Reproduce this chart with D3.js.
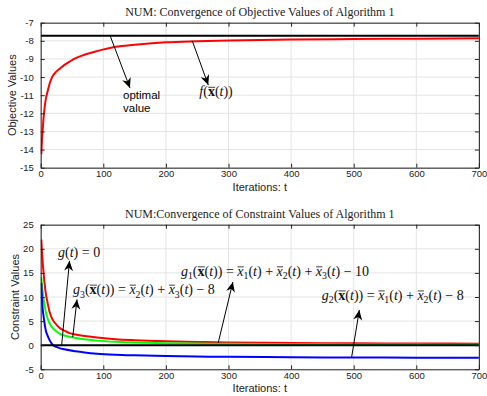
<!DOCTYPE html>
<html><head><meta charset="utf-8">
<script src="https://cdn.jsdelivr.net/npm/d3@7"></script>
<style>body{margin:0;background:#fff}text{white-space:pre}</style>
</head><body><svg id="c" width="487" height="396"></svg>
<script>
// ---------- data ----------
const xTicks = [0,100,200,300,400,500,600,700];
const yTicksObj = [-15,-14,-13,-12,-11,-10,-9,-8,-7];
const yTicksCon = [-5,0,5,10,15,20,25];
const tObj = [1,2,3,4,6,8.5,11,14,19,25,30,38,46,56,70,90,120,150,200,250,300,400,500,600,700];
const fObj = [-14.25,-13.5,-13.0,-12.5,-11.75,-11.15,-10.8,-10.4,-9.95,-9.7,-9.55,-9.33,-9.15,-8.95,-8.77,-8.57,-8.33,-8.22,-8.08,-8.02,-7.98,-7.93,-7.9,-7.88,-7.86];
const optimalValue = -7.72;
const tCon = [1,2,3,4.5,6,8.5,11,14,19,25,30,38,46,56,70,90,120,150,200,250,300,400,500,600,700];
const g1 = [21.9,19.5,17.4,15.2,13.1,10.5,8.8,7.0,5.3,4.3,3.6,3.0,2.5,2.2,1.9,1.6,1.25,1.05,0.82,0.68,0.58,0.47,0.4,0.35,0.32];
const g3 = [14.1,12.5,11.2,9.8,8.4,6.7,5.6,4.6,3.6,2.9,2.4,2.0,1.75,1.5,1.25,0.95,0.7,0.57,0.42,0.34,0.28,0.21,0.16,0.13,0.11];
const g2 = [12.9,9.8,7.7,6.1,4.7,2.9,2.0,1.1,0.1,-0.35,-0.6,-0.85,-1.07,-1.27,-1.5,-1.75,-1.97,-2.1,-2.25,-2.35,-2.42,-2.5,-2.55,-2.58,-2.6];
const constraintZero = 0;

// ---------- setup ----------
const svg = d3.select('#c');
const sans = '"Liberation Sans", Arial, Helvetica, sans-serif';
const serif = '"Liberation Serif", "Times New Roman", serif';
const X0 = 40.7, X1 = 478.9;

function panel(top, bottom, yDomain, yTicks, title, ylabel, clipId, labelX) {
  const x = d3.scaleLinear().domain([0,700]).range([X0,X1]);
  const y = d3.scaleLinear().domain(yDomain).range([bottom, top]);
  const g = svg.append('g');
  // grid
  g.append('g').selectAll('line').data(xTicks).join('line')
    .attr('x1', d=>x(d)).attr('x2', d=>x(d)).attr('y1', top).attr('y2', bottom)
    .attr('stroke', '#e4e4e4').attr('stroke-width', 1);
  g.append('g').selectAll('line').data(yTicks).join('line')
    .attr('y1', d=>y(d)).attr('y2', d=>y(d)).attr('x1', X0).attr('x2', X1)
    .attr('stroke', '#e4e4e4').attr('stroke-width', 1);
  svg.append('clipPath').attr('id', clipId).append('rect')
    .attr('x', X0).attr('y', top).attr('width', X1-X0).attr('height', bottom-top);
  const plot = g.append('g').attr('clip-path', `url(#${clipId})`);
  // axes
  const fmt = d => String(d);
  const style = a => a.call(s => {
    s.select('.domain').attr('stroke', '#222').attr('stroke-width', 1);
    s.selectAll('.tick line').attr('stroke', '#222');
    s.selectAll('text').attr('font-family', sans).attr('font-size', 9.5).attr('fill', '#222');
  });
  g.append('g').attr('transform', `translate(0,${bottom})`)
    .call(d3.axisBottom(x).tickValues(xTicks).tickFormat(fmt).tickSize(-4).tickPadding(3).tickSizeOuter(0)).call(style);
  g.append('g').attr('transform', `translate(0,${top})`)
    .call(d3.axisTop(x).tickValues(xTicks).tickSize(-4).tickFormat('').tickSizeOuter(0)).call(style);
  g.append('g').attr('transform', `translate(${X0},0)`)
    .call(d3.axisLeft(y).tickValues(yTicks).tickFormat(fmt).tickSize(-4).tickPadding(7).tickSizeOuter(0)).call(style);
  g.append('g').attr('transform', `translate(${X1},0)`)
    .call(d3.axisRight(y).tickValues(yTicks).tickSize(-4).tickFormat('').tickSizeOuter(0)).call(style);
  // title and labels
  g.append('text').attr('x', (X0+X1)/2).attr('y', top-7).attr('text-anchor','middle')
    .attr('font-family', serif).attr('font-size', 12).attr('fill','#222').text(title);
  g.append('text').attr('x', (X0+X1)/2).attr('y', bottom+23).attr('text-anchor','middle')
    .attr('font-family', sans).attr('font-size', 11).attr('fill','#222').text('Iterations: t');
  g.append('text').attr('transform', `translate(${labelX},${(top+bottom)/2}) rotate(-90)`)
    .attr('text-anchor','middle').attr('font-family', sans).attr('font-size', 11).attr('fill','#222').text(ylabel);
  return {x, y, g, plot};
}

function arrow(g, x1, y1, x2, y2) {
  g.append('line').attr('x1', x1).attr('y1', y1).attr('x2', x2).attr('y2', y2)
    .attr('stroke', '#000').attr('stroke-width', 1);
  const ang = Math.atan2(y2-y1, x2-x1), L = 10, W = 4.5, N = 3;
  const ux = Math.cos(ang), uy = Math.sin(ang), px = -uy, py = ux;
  const bx = x2 - ux*L, by = y2 - uy*L;
  const p = [[x2,y2],[bx+px*W, by+py*W],[x2-ux*(L-N), y2-uy*(L-N)],[bx-px*W, by-py*W]];
  g.append('path').attr('d', 'M'+p.map(q=>q.join(',')).join('L')+'Z').attr('fill','#000');
}

function mathText(g, x, y, parts, size) {
  const text = g.append('text').attr('x', x).attr('y', y)
    .attr('font-family', serif).attr('font-size', size).attr('fill', '#111');
  let idx = 0, shift = 0; const overs = [];
  parts.forEach(([s, st]) => {
    const ts = text.append('tspan').text(s);
    if (st.includes('i')) ts.attr('font-style','italic');
    if (st.includes('b')) ts.attr('font-weight','bold');
    const want = st.includes('s') ? size*0.25 : 0;
    if (want !== shift) { ts.attr('dy', want - shift); shift = want; }
    if (st.includes('s')) ts.attr('font-size', size*0.7);
    if (st.includes('o')) overs.push([idx, idx + s.length - 1]);
    idx += s.length;
  });
  const node = text.node();
  overs.forEach(([a,b]) => {
    const xa = node.getStartPositionOfChar(a).x, xb = node.getEndPositionOfChar(b).x;
    g.append('line').attr('x1', xa+0.3).attr('x2', xb+0.3).attr('y1', y - size*0.64).attr('y2', y - size*0.64)
      .attr('stroke', '#111').attr('stroke-width', 0.8);
  });
}

// ---------- top panel ----------
const P1 = panel(22.7, 167.7, [-15,-7], yTicksObj, 'NUM: Convergence of Objective Values of Algorithm 1', 'Objective Values', 'clip1', 16);
const line1 = d3.line().x(d=>P1.x(d[0])).y(d=>P1.y(d[1])).curve(d3.curveMonotoneX);
P1.plot.append('path').datum([[0, optimalValue],[700, optimalValue]])
  .attr('d', line1).attr('fill','none').attr('stroke','#000').attr('stroke-width', 2);
P1.plot.append('path').datum(tObj.map((t,i)=>[t, fObj[i]]))
  .attr('d', line1).attr('fill','none').attr('stroke','#ff0000').attr('stroke-width', 2);

// annotations (data coordinates)
const annObj = [
  {from:[111,-7.73], to:[142.6,-10.6]},
  {from:[242,-7.99], to:[267.7,-10.44]}
];
annObj.forEach(a => arrow(P1.g, P1.x(a.from[0]), P1.y(a.from[1]), P1.x(a.to[0]), P1.y(a.to[1])));
P1.g.append('text').attr('x', P1.x(131.5)).attr('y', P1.y(-11.2)).attr('font-family', sans).attr('font-size', 11.5).text('optimal');
P1.g.append('text').attr('x', P1.x(131.5)).attr('y', P1.y(-11.93)).attr('font-family', sans).attr('font-size', 11.5).text('value');
mathText(P1.g, P1.x(253.4), P1.y(-11.06), [['f','i'],['(','r'],['x','bo'],['(','r'],['t','i'],['))','r']], 14);

// ---------- bottom panel ----------
const P2 = panel(224.7, 369.3, [-5,25], yTicksCon, 'NUM:Convergence of Constraint Values of Algorithm 1', 'Constraint Values', 'clip2', 19);
const line2 = d3.line().x(d=>P2.x(d[0])).y(d=>P2.y(d[1])).curve(d3.curveMonotoneX);
[[g1,'#ff0000'],[g3,'#00ff00'],[g2,'#0000ff']].forEach(([s,c]) => {
  P2.plot.append('path').datum(tCon.map((t,i)=>[t, s[i]]))
    .attr('d', line2).attr('fill','none').attr('stroke', c).attr('stroke-width', 2);
});
P2.plot.append('path').datum([[0,constraintZero],[700,constraintZero]])
  .attr('d', line2).attr('fill','none').attr('stroke','#000').attr('stroke-width', 2);

const annCon = [
  {from:[33.5,0], to:[46,17.5]},
  {from:[51.1,1.64], to:[58,9.5]},
  {from:[283.5,0.46], to:[307,13.1]},
  {from:[496.8,-2.39], to:[509,7.3]}
];
annCon.forEach(a => arrow(P2.g, P2.x(a.from[0]), P2.y(a.from[1]), P2.x(a.to[0]), P2.y(a.to[1])));
const MS = 14;
mathText(P2.g, P2.x(27.7), P2.y(18.4), [['g','i'],['(','r'],['t','i'],[') = 0','r']], MS);
mathText(P2.g, P2.x(51.6), P2.y(10.6), [['g','i'],['3','s'],['(','r'],['x','bo'],['(','r'],['t','i'],[')) = ','r'],['x','io'],['2','s'],['(','r'],['t','i'],[') + ','r'],['x','io'],['3','s'],['(','r'],['t','i'],[') \u2212 8','r']], MS);
mathText(P2.g, P2.x(224), P2.y(14.4), [['g','i'],['1','s'],['(','r'],['x','bo'],['(','r'],['t','i'],[')) = ','r'],['x','io'],['1','s'],['(','r'],['t','i'],[') + ','r'],['x','io'],['2','s'],['(','r'],['t','i'],[') + ','r'],['x','io'],['3','s'],['(','r'],['t','i'],[') \u2212 10','r']], MS);
mathText(P2.g, P2.x(449), P2.y(9.4), [['g','i'],['2','s'],['(','r'],['x','bo'],['(','r'],['t','i'],[')) = ','r'],['x','io'],['1','s'],['(','r'],['t','i'],[') + ','r'],['x','io'],['2','s'],['(','r'],['t','i'],[') \u2212 8','r']], MS);
</script></body></html>
